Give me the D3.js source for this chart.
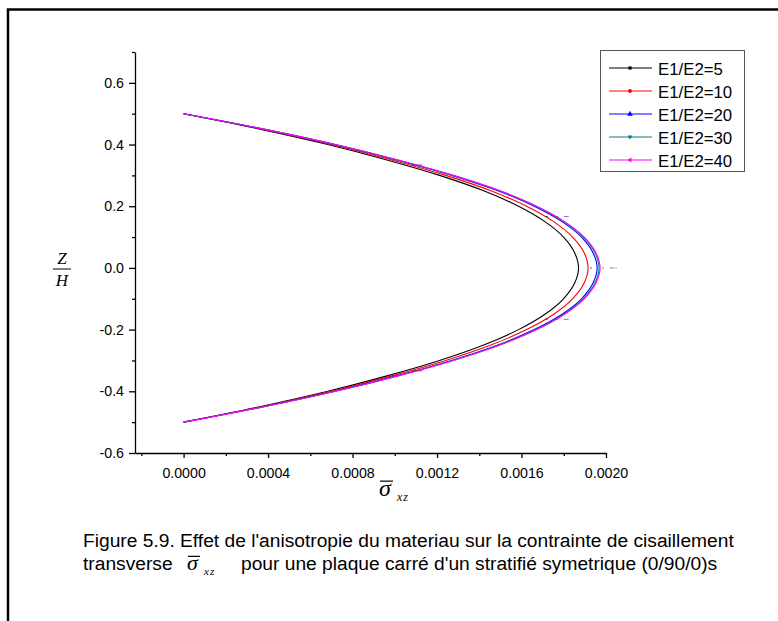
<!DOCTYPE html>
<html>
<head>
<meta charset="utf-8">
<script src="https://cdn.jsdelivr.net/npm/d3@7"></script>
<style>
  body { margin: 0; background: #fff; }
  svg { display: block; }
</style>
</head>
<body>
<svg id="chart" width="778" height="621"></svg>
<script>
// z/H positions (bottom to top)
const zValues = [-0.5, -0.45, -0.4, -0.35, -0.3, -0.25, -0.2, -0.15, -0.1, -0.05, 0,
                 0.05, 0.1, 0.15, 0.2, 0.25, 0.3, 0.35, 0.4, 0.45, 0.5];

const sigE5  = [0, 0.000361, 0.000683, 0.000963, 0.001212, 0.001421, 0.001586, 0.001711, 0.001799, 0.001851, 0.001870,
                0.001851, 0.001799, 0.001711, 0.001586, 0.001421, 0.001212, 0.000963, 0.000683, 0.000361, 0];
const sigE10 = [0, 0.000370, 0.000699, 0.000986, 0.001241, 0.001455, 0.001624, 0.001752, 0.001842, 0.001896, 0.001915,
                0.001896, 0.001842, 0.001752, 0.001624, 0.001455, 0.001241, 0.000986, 0.000699, 0.000370, 0];
const sigE20 = [0, 0.000378, 0.000715, 0.001008, 0.001269, 0.001488, 0.001660, 0.001792, 0.001884, 0.001938, 0.001958,
                0.001938, 0.001884, 0.001792, 0.001660, 0.001488, 0.001269, 0.001008, 0.000715, 0.000378, 0];
const sigE30 = [0, 0.000380, 0.000718, 0.001013, 0.001275, 0.001495, 0.001668, 0.001800, 0.001892, 0.001947, 0.001967,
                0.001947, 0.001892, 0.001800, 0.001668, 0.001495, 0.001275, 0.001013, 0.000718, 0.000380, 0];
const sigE40 = [0, 0.000381, 0.000720, 0.001016, 0.001278, 0.001499, 0.001672, 0.001804, 0.001897, 0.001952, 0.001972,
                0.001952, 0.001897, 0.001804, 0.001672, 0.001499, 0.001278, 0.001016, 0.000720, 0.000381, 0];

// stray symbol points (tiny markers left by the plotting program)
const symbolZ = [-1/3, -1/6, 0, 1/6, 1/3];
const symE5  = [0.001090, 0.001720, 0.001929, 0.001720, 0.001090];
const symE10 = [0.001109, 0.001768, 0.001986, 0.001768, 0.001109];
const symE20 = [0.001118, 0.001806, 0.002024, 0.001806, 0.001118];
const symE30 = [0.001123, 0.001815, 0.002033, 0.001815, 0.001123];
const symE40 = [0.001128, 0.001820, 0.002047, 0.001820, 0.001128];

const seriesNames = ["E1/E2=5", "E1/E2=10", "E1/E2=20", "E1/E2=30", "E1/E2=40"];
const seriesColors = ["#000000", "#ff0000", "#0000ff", "#008080", "#ff00ff"];
const seriesSymbols = ["square", "circle", "up", "down", "left"];

const xMajorTicks = [0, 0.0004, 0.0008, 0.0012, 0.0016, 0.0020];
const xMinorTicks = [-0.0002, 0.0002, 0.0006, 0.0010, 0.0014, 0.0018];
const yMajorTicks = [-0.6, -0.4, -0.2, 0.0, 0.2, 0.4, 0.6];
const yMinorTicks = [-0.5, -0.3, -0.1, 0.1, 0.3, 0.5, 0.7];

const captionLine1 = "Figure 5.9. Effet de l'anisotropie du materiau sur la contrainte de cisaillement";
const captionLine2a = "transverse";
const captionLine2b = "pour une plaque carré d'un stratifié symetrique (0/90/0)s";

const series = [sigE5, sigE10, sigE20, sigE30, sigE40].map((vals, i) => ({
    name: seriesNames[i],
    color: seriesColors[i],
    symbol: seriesSymbols[i],
    points: vals.map((v, j) => ({ x: v, z: zValues[j] }))
}));
const symbolSets = [symE5, symE10, symE20, symE30, symE40];

const svg = d3.select("#chart");
const sans = "'Liberation Sans', Arial, sans-serif";
const serif = "'Liberation Serif', 'Times New Roman', serif";

// page frame (top and left edges only)
svg.append("path")
    .attr("d", "M8,621 L8,9.5 L778,9.5")
    .attr("fill", "none").attr("stroke", "#000").attr("stroke-width", 2.5);

let x = d3.scaleLinear().domain([-0.00023, 0.0020]).range([135, 606]);
let y = d3.scaleLinear().domain([-0.6, 0.7]).range([453, 52]);

// axes
const axisX = svg.append("g").attr("transform", "translate(0,453)")
    .call(d3.axisBottom(x).tickValues(xMajorTicks).tickSize(5).tickSizeOuter(0).tickPadding(10)
        .tickFormat(d => d.toFixed(4)));
const axisXMinor = svg.append("g").attr("transform", "translate(0,453)")
    .call(d3.axisBottom(x).tickValues(xMinorTicks).tickSize(3).tickSizeOuter(0).tickFormat(""));
axisXMinor.select(".domain").remove();

const axisY = svg.append("g").attr("transform", "translate(135,0)")
    .call(d3.axisLeft(y).tickValues(yMajorTicks).tickSize(6).tickSizeOuter(0).tickPadding(5)
        .tickFormat(d => d.toFixed(1)));
const axisYMinor = svg.append("g").attr("transform", "translate(135,0)")
    .call(d3.axisLeft(y).tickValues(yMinorTicks).tickSize(3).tickSizeOuter(0).tickFormat(""));
axisYMinor.select(".domain").remove();

svg.selectAll(".domain, .tick line").attr("stroke", "#000").attr("stroke-width", 1.3);
svg.selectAll(".tick text").attr("font-family", sans).attr("font-size", "14.2px").attr("fill", "#000");

// curves
const line = d3.line()
    .x(d => x(d.x))
    .y(d => y(d.z))
    .curve(d3.curveCatmullRom.alpha(0.5));

svg.append("g").selectAll("path").data(series).enter().append("path")
    .attr("d", d => line(d.points))
    .attr("fill", "none")
    .attr("stroke", d => d.color)
    .attr("stroke-width", 1.1);

// stray symbol dots
symbolSets.forEach((vals, i) => {
    svg.append("g").selectAll("rect").data(vals).enter().append("rect")
        .attr("x", d => x(d) - 1)
        .attr("y", (d, j) => y(symbolZ[j]) - 0.5)
        .attr("width", 2).attr("height", 1)
        .attr("fill", seriesColors[i]).attr("opacity", 0.6);
});

// axis titles
const yTitle = svg.append("g").attr("font-family", serif).attr("font-style", "italic").attr("font-size", "17px");
yTitle.append("text").attr("x", 62).attr("y", 264).attr("text-anchor", "middle").text("Z");
yTitle.append("line").attr("x1", 53).attr("x2", 71).attr("y1", 269).attr("y2", 269)
    .attr("stroke", "#000").attr("stroke-width", 1);
yTitle.append("text").attr("x", 62).attr("y", 286).attr("text-anchor", "middle").text("H");

function sigmaLabel(px, py, size) {
    const g = svg.append("g");
    const t = g.append("text").attr("x", px).attr("y", py)
        .attr("font-family", serif).attr("font-style", "italic").attr("font-size", size + "px")
        .text("σ");
    const b = t.node().getBBox();
    g.append("line").attr("x1", b.x + 1).attr("x2", b.x + b.width + 1)
        .attr("y1", py - size * 0.62).attr("y2", py - size * 0.62)
        .attr("stroke", "#000").attr("stroke-width", 1.2);
    g.append("text").attr("x", b.x + b.width + 5).attr("y", py + 5)
        .attr("font-family", serif).attr("font-style", "italic").attr("font-size", (size * 0.5) + "px")
        .attr("letter-spacing", "1px")
        .text("xz");
    return g;
}
sigmaLabel(379, 496, 24);

// caption
const capSize = "19.2px";
svg.append("text").attr("x", 83).attr("y", 547)
    .attr("font-family", sans).attr("font-size", capSize).attr("fill", "#000")
    .text(captionLine1);
svg.append("text").attr("x", 83).attr("y", 570)
    .attr("font-family", sans).attr("font-size", capSize).attr("fill", "#000")
    .text(captionLine2a);
sigmaLabel(187, 570, 22);
svg.append("text").attr("x", 241).attr("y", 570)
    .attr("font-family", sans).attr("font-size", capSize).attr("fill", "#000")
    .text(captionLine2b);

// legend
const legend = svg.append("g");
legend.append("rect").attr("x", 600.5).attr("y", 50.5).attr("width", 144).attr("height", 121)
    .attr("fill", "#fff").attr("stroke", "#555").attr("stroke-width", 1);

const shapes = {
    square: () => d3.symbol(d3.symbolSquare, 10)(),
    circle: () => d3.symbol(d3.symbolCircle, 12)(),
    up: () => d3.symbol(d3.symbolTriangle, 14)(),
    down: () => "M-2.5,-1.5L2.5,-1.5L0,2.5Z",
    left: () => "M-2.5,0L1.5,-2.5L1.5,2.5Z"
};

series.forEach((s, i) => {
    const cy = 68 + i * 23;
    const g = legend.append("g");
    g.append("line").attr("x1", 609).attr("x2", 652).attr("y1", cy).attr("y2", cy)
        .attr("stroke", s.color).attr("stroke-width", 1.1);
    g.append("path").attr("d", shapes[s.symbol]()).attr("transform", `translate(630,${cy})`)
        .attr("fill", s.color);
    g.append("text").attr("x", 658).attr("y", cy + 6.5)
        .attr("font-family", sans).attr("font-size", "16.8px").attr("fill", "#000")
        .text(s.name);
});
</script>
</body>
</html>
